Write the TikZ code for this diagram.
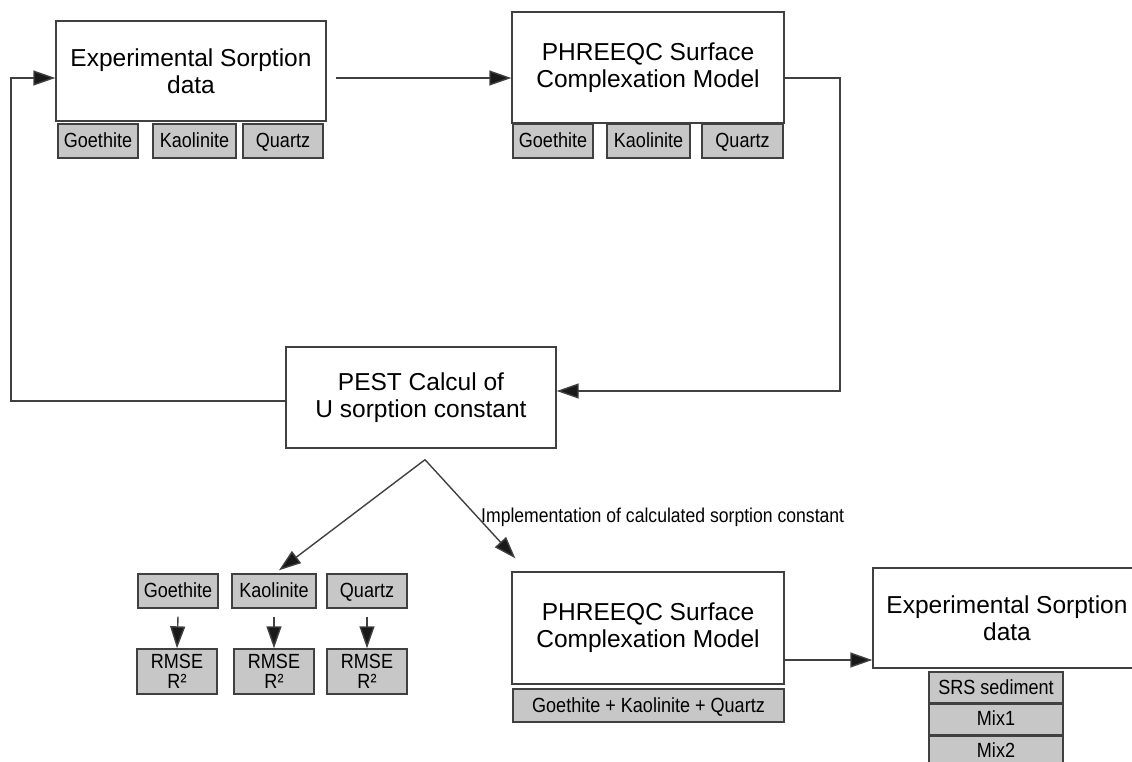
\documentclass[tikz,border=0pt]{standalone}
\usepackage{fontspec}
\setmainfont{Liberation Sans}
\newfontfamily\narrowsf[FakeStretch=0.88]{Liberation Sans}
\usetikzlibrary{calc, arrows.meta, positioning}

\tikzset{
	wire/.style={draw=black!75, line width=1.4pt, -{Triangle[length=22pt, width=15pt, fill=black!90]}},
	bigbox/.style={draw=black!75, line width=1.4pt, fill=white, align=center, inner sep=0pt,
		font=\fontsize{24.5}{27}\selectfont},
	tagbox/.style={draw=black!75, line width=1.4pt, fill=black!22, align=center, inner sep=0pt,
		minimum height=34pt, font=\narrowsf\fontsize{20.5}{20}\selectfont},
	tagline/.style={tagbox, text height=16pt, text depth=3pt}
}

\begin{document}
\begin{tikzpicture}[x=1pt, y=-1pt]
	\useasboundingbox (0,0) rectangle (1132,762);

	% --- calibration loop ---
	\node[bigbox, minimum width=270pt, minimum height=100pt] (expA) at (191,71) {Experimental Sorption\\data};
	\node[tagline, minimum width=80pt] (goeA) at (98,141) {Goethite};
	\node[tagline, minimum width=83pt] (kaoA) at (194.5,141) {Kaolinite};
	\node[tagline, minimum width=80pt] (quaA) at (283,141) {Quartz};

	\node[bigbox, minimum width=272pt, minimum height=111pt] (phrA) at (648,67.5) {PHREEQC Surface\\Complexation Model};
	\node[tagline, minimum width=80pt] (goeP) at (553,141) {Goethite};
	\node[tagline, minimum width=83pt] (kaoP) at (648.5,141) {Kaolinite};
	\node[tagline, minimum width=81pt] (quaP) at (742.5,141) {Quartz};

	\node[bigbox, minimum width=270pt, minimum height=101pt] (pest) at (421,397.5) {PEST Calcul of\\U sorption constant};

	\coordinate (rowA) at (0,78);
	\coordinate (rowP) at (0,391);
	\coordinate (rowQ) at (0,401);
	\coordinate (loopL) at (11,0);
	\coordinate (loopR) at (840,0);

	\draw[wire] ($(expA.east |- rowA)+(9,0)$) -- (phrA.west |- rowA);
	\draw[wire] (phrA.east |- rowA) -| (loopR |- rowP) -- (pest.east |- rowP);
	\draw[wire] (pest.west |- rowQ) -| (loopL |- rowA) -- (expA.west |- rowA);

	% --- single minerals ---
	\node[tagline, minimum width=80pt] (goeB) at (178,591) {Goethite};
	\node[tagline, minimum width=84pt] (kaoB) at (274,591) {Kaolinite};
	\node[tagline, minimum width=80pt] (quaB) at (367,591) {Quartz};
	\foreach \nm/\xx in {rmseG/177, rmseK/274, rmseQ/367}
		\node[tagbox, minimum width=80pt, minimum height=45pt] (\nm) at (\xx,671.5) {RMSE\\R²};
	\foreach \src/\dst in {goeB/rmseG, kaoB/rmseK, quaB/rmseQ}
		\draw[wire] ($(\src.south)+(0,8)$) -- (\dst.north);

	% --- mixture ---
	\node[bigbox, minimum width=272pt, minimum height=112pt] (phrB) at (648,628) {PHREEQC Surface\\Complexation Model};
	\node[tagline, minimum width=271pt, minimum height=33pt] (mixP) at (648.5,705.5) {Goethite + Kaolinite + Quartz};

	\node[bigbox, minimum width=268pt, minimum height=100pt] (expB) at (1007,618) {Experimental Sorption\\data};
	\node[tagline, minimum width=134pt, minimum height=31pt] (srs) at (996,687.5) {SRS sediment};
	\node[tagline, minimum width=134pt, minimum height=30pt, below=0pt of srs] (mixA) {Mix1};
	\node[tagline, minimum width=134pt, minimum height=30pt, below=0pt of mixA] (mixB) {Mix2};

	\coordinate (fork) at ($(pest.south)+(4,11)$);
	\coordinate (rowB) at (0,660);
	\draw[wire] (fork) -- ($(kaoB.north)+(5,-3)$);
	\draw[wire] (fork) -- ($(phrB.north west)+(4,-13)$);
	\node[anchor=west, inner sep=0pt, font=\narrowsf\fontsize{20}{22}\selectfont] (impl) at (481,517) {Implementation of calculated sorption constant};
	\draw[wire] (phrB.east |- rowB) -- (expB.west |- rowB);
\end{tikzpicture}
\end{document}
